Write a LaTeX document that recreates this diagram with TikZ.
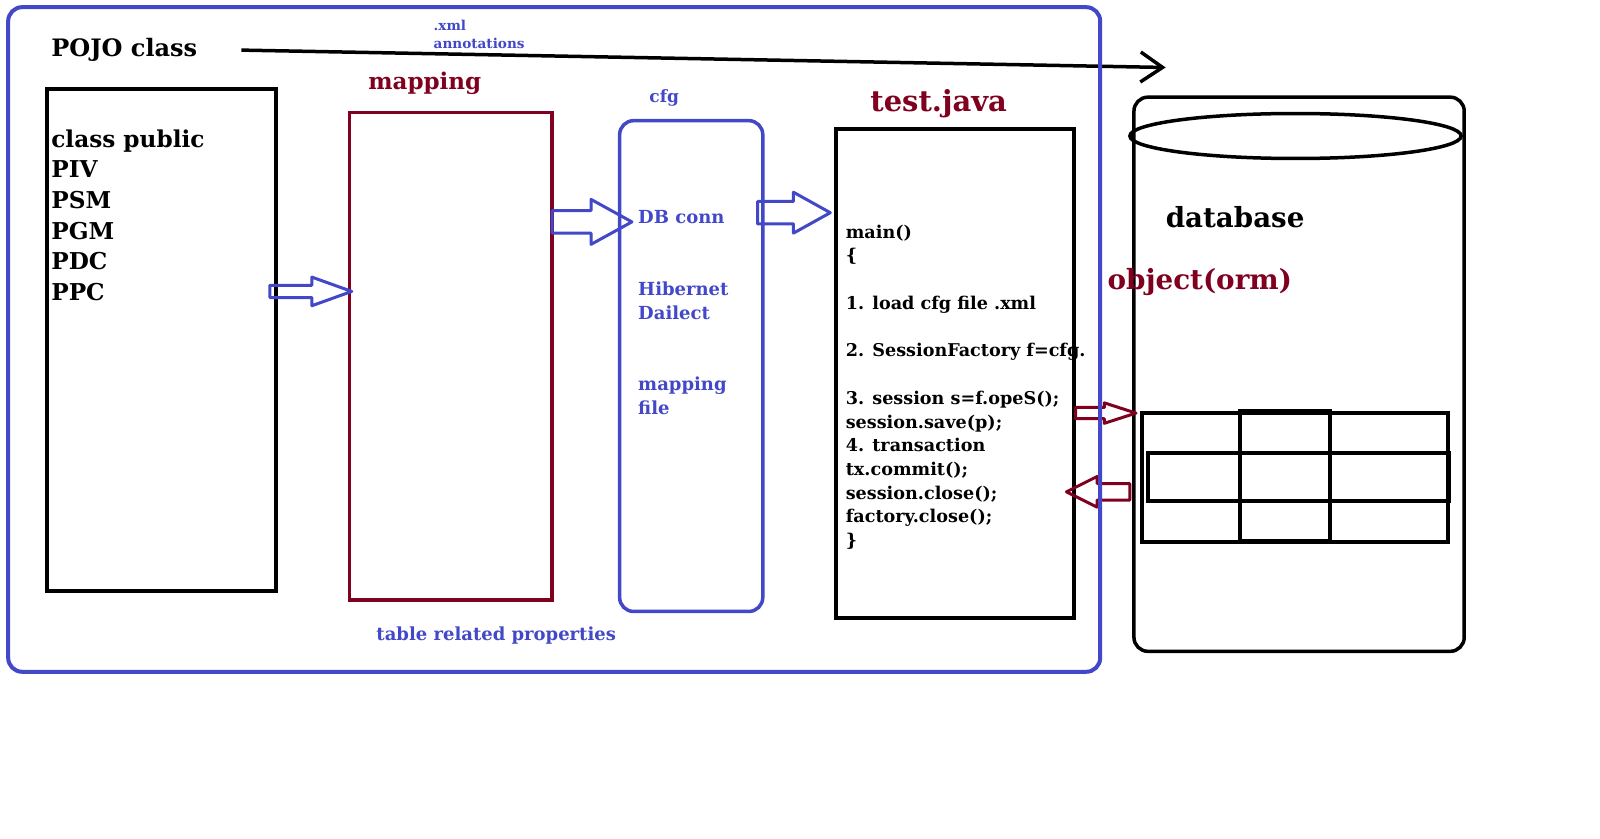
\documentclass[tikz,border=0pt]{standalone}
\usepackage{fontspec}
\setmainfont{DejaVu Serif}
\usetikzlibrary{arrows.meta,calc,fit}
\definecolor{myblue}{RGB}{66,72,200}
\definecolor{myred}{RGB}{128,0,32}
\newcommand{\sz}[1]{\fontsize{#1}{#1}\selectfont\bfseries}
% hollow block arrow: style, from, to, shaft half, head half, head length
\newcommand{\blockarrow}[6]{%
  \draw[#1] ($(#2)+(0,#4)$) -- ($(#3)+(-#6,#4)$) -- ($(#3)+(-#6,#5)$) -- (#3)
    -- ($(#3)+(-#6,-#5)$) -- ($(#3)+(-#6,-#4)$) -- ($(#2)+(0,-#4)$) -- cycle;}

\begin{document}
\begin{tikzpicture}[x=1.0225pt, y=-1.0225pt,
  box/.style={draw, inner sep=0pt, line width=3.5pt},
  lbl/.style={inner sep=0pt, anchor=base west},
  barrow/.style={draw=myblue, line width=3pt, line join=round},
  rarrow/.style={draw=myred, line width=3pt, line join=round}]

\useasboundingbox (0,0) rectangle (1564.8,819.6);
\fill[white] (0,0) rectangle (1564.8,819.6);

% title and annotation line
\node[lbl, font=\sz{24}] (pojo-title) at (50,55) {POJO class};
\node[lbl, font=\sz{13.6}, text=myblue] (xml) at (424,30) {.xml};
\node[lbl, font=\sz{13.6}, text=myblue] (annot) at (424,47) {annotations};
\coordinate (ann-start) at (236,49);
\coordinate (ann-end) at (1140,66);
\draw[line width=3.5pt, -{Straight Barb[length=22pt, width=30pt]}] (ann-start) -- (ann-end);

% POJO box
\node[box, line width=4pt, fit={(46,87) (270,578)}] (pojo) {};
\foreach \t [count=\i from 0] in {class public,PIV,PSM,PGM,PDC,PPC}
  \node[lbl, font=\sz{23.2}] (pojo-\i) at (50,{144+30*\i}) {\t};

% mapping box
\node[box, draw=myred, line width=3.5pt, fit={(342,110) (540,587)}] (mapbox) {};
\node[lbl, font=\sz{23}, text=myred] (map-title) at (360,88) {mapping};
\node[lbl, font=\sz{18}, text=myblue] (tableprops) at (368,626) {table related properties};

% cfg box
\node[box, draw=myblue, line width=3.5pt, rounded corners=14pt, fit={(606,118) (746,598)}] (cfgbox) {};
\node[lbl, font=\sz{17}, text=myblue] (cfg-title) at (635,100) {cfg};
\node[lbl, font=\sz{18}, text=myblue] (dbconn) at (624,219) {DB conn};
\node[lbl, font=\sz{18}, text=myblue] (hib) at (624,289) {Hibernet};
\node[lbl, font=\sz{18}, text=myblue] (dialect) at (624,312) {Dailect};
\node[lbl, font=\sz{18}, text=myblue] (mapfile) at (624,382) {mapping};
\node[lbl, font=\sz{18}, text=myblue] (file) at (624,405) {file};

% test.java box
\node[box, line width=4pt, fit={(818,126) (1050,604)}] (testbox) {};
\node[lbl, font=\sz{29}, text=myred] (test-title) at (851,109) {test.java};
\foreach \n/\t in {0/main(), 1/\{, 3/1. load cfg file .xml, 5/2. SessionFactory f=cfg.,
    7/3. session s=f.opeS();, 8/session.save(p);, 9/4. transaction, 10/tx.commit();,
    11/session.close();, 12/factory.close();, 13/\}}
  \node[lbl, font=\sz{17.6}] (code-\n) at (827,{233+23.2*\n}) {\t};

% database
\node[box, line width=3.5pt, rounded corners=14pt, fit={(1109,95) (1432,637)}] (dbbox) {};
\draw[line width=3.5pt] (1267,133) ellipse [x radius=162, y radius=22];
\node[lbl, font=\sz{27.7}] (db-title) at (1140,222) {database};
\draw[line width=3.5pt] (1117,404) rectangle (1416,530);
\draw[line width=4pt] (1213,402) rectangle (1301,529);
\draw[line width=4pt] (1123,443) rectangle (1417,490);

% block arrows
\coordinate (a1s) at (264,285);  \coordinate (a1e) at (344,285);
\coordinate (a2s) at (540,217);  \coordinate (a2e) at (618,217);
\coordinate (a3s) at (741,208);  \coordinate (a3e) at (812,208);
\coordinate (a4s) at (1052,404); \coordinate (a4e) at (1111,404);
\coordinate (a5s) at (1105,481); \coordinate (a5e) at (1043,481);
\blockarrow{barrow}{a1s}{a1e}{6}{14}{39}
\blockarrow{barrow}{a2s}{a2e}{11}{22}{40}
\blockarrow{barrow}{a3s}{a3e}{11}{20}{36}
\blockarrow{rarrow}{a4s}{a4e}{5.5}{10}{31}
\blockarrow{rarrow}{a5s}{a5e}{8}{15}{-30}

% outer frame
\draw[myblue, line width=4pt, rounded corners=14pt] (8,7) rectangle (1076,657);
\node[lbl, font=\sz{27.8}, text=myred] (orm) at (1083,283) {object(orm)};

\end{tikzpicture}
\end{document}
